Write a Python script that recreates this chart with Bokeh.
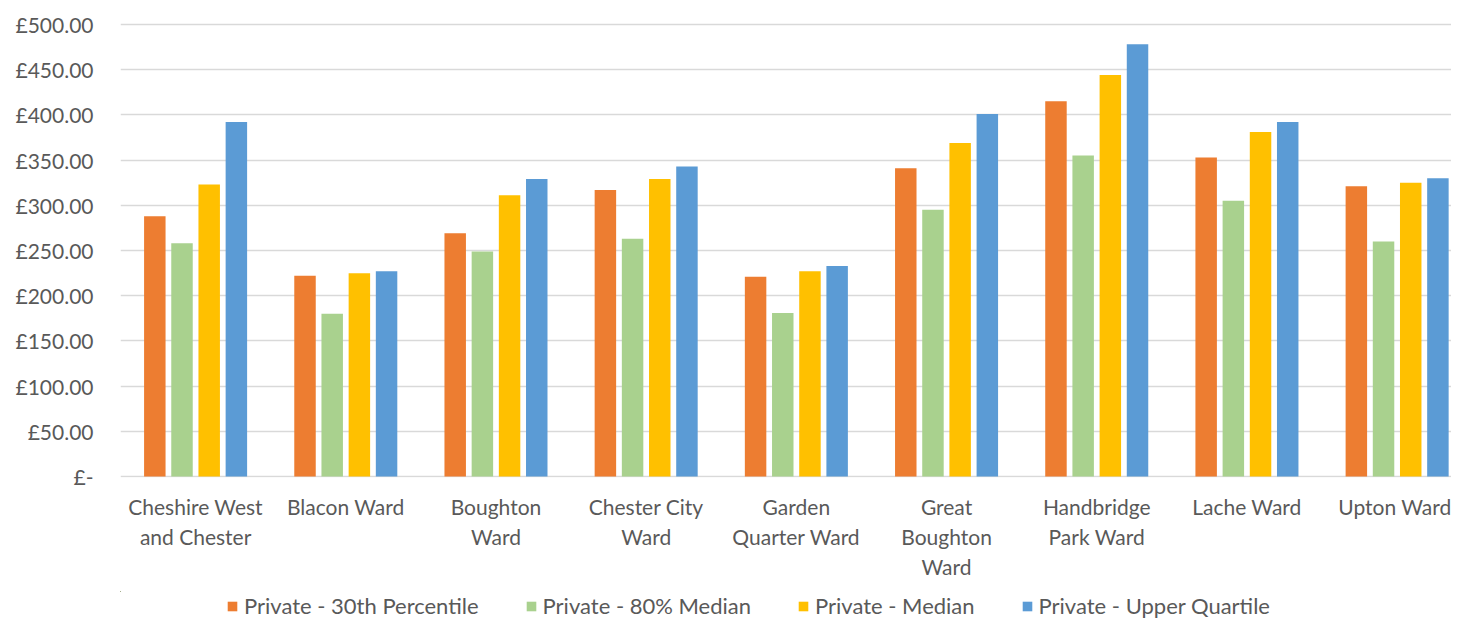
from bokeh.plotting import figure
from bokeh.layouts import column
from bokeh.models import Range1d, FixedTicker, Legend, LegendItem, ColumnDataSource
from bokeh.embed import file_html
from bokeh.resources import INLINE

categories = ["Cheshire West and Chester", "Blacon Ward", "Boughton Ward",
              "Chester City Ward", "Garden Quarter Ward", "Great Boughton Ward",
              "Handbridge Park Ward", "Lache Ward", "Upton Ward"]
category_labels = ["Cheshire West\nand Chester", "Blacon Ward", "Boughton\nWard",
                   "Chester City\nWard", "Garden\nQuarter Ward", "Great\nBoughton\nWard",
                   "Handbridge\nPark Ward", "Lache Ward", "Upton Ward"]
series_names = ["Private - 30th Percentile", "Private - 80% Median",
                "Private - Median", "Private - Upper Quartile"]
p30 = [288, 222, 269, 317, 221, 341, 415, 353, 321]
p80 = [258, 180, 249, 263, 181, 295, 355, 305, 260]
median = [323, 225, 311, 329, 227, 369, 444, 381, 325]
upper_q = [392, 227, 329, 343, 233, 401, 478, 392, 330]
y_ticks = [0, 50, 100, 150, 200, 250, 300, 350, 400, 450, 500]
y_tick_labels = ["£-", "£50.00", "£100.00", "£150.00", "£200.00", "£250.00",
                 "£300.00", "£350.00", "£400.00", "£450.00", "£500.00"]

colors = ["#ED7D31", "#A9D18E", "#FFC000", "#5B9BD5"]
series = [p30, p80, median, upper_q]

FONT = "Lato"
TXT = "#595959"

p = figure(width=1451, height=591, output_backend="svg", toolbar_location=None,
           x_range=Range1d(0, 8.862), y_range=Range1d(-1, 511.0),
           min_border_left=120, min_border_right=0, min_border_top=14,
           min_border_bottom=114, outline_line_color=None)

step = 0.181
bw = 0.143
sources = []
for i, (vals, col) in enumerate(zip(series, colors)):
    xs = [k + 0.5 + (i - 1.5) * step for k in range(len(categories))]
    src = ColumnDataSource(dict(x=xs, top=vals, cat=categories))
    sources.append(src)
    p.vbar(x="x", top="top", bottom=0, width=bw, source=src,
           fill_color=col, line_color=None)

p.xgrid.grid_line_color = None
p.ygrid.grid_line_color = "#D9D9D9"
p.ygrid.grid_line_width = 1.5
p.ygrid.ticker = FixedTicker(ticks=y_ticks)

p.yaxis.ticker = FixedTicker(ticks=y_ticks)
p.yaxis.major_label_overrides = {t: l for t, l in zip(y_ticks, y_tick_labels)}
p.yaxis.axis_line_color = None
p.yaxis.major_tick_line_color = None
p.yaxis.major_tick_out = 0
p.yaxis.major_tick_in = 0
p.yaxis.minor_tick_line_color = None
p.yaxis.major_label_standoff = 27
p.yaxis.major_label_text_font = FONT
p.yaxis.major_label_text_font_size = "21px"
p.yaxis.major_label_text_color = TXT

xt = [k + 0.5 for k in range(len(categories))]
p.xaxis.ticker = FixedTicker(ticks=xt)
p.xaxis.major_label_overrides = {t: l for t, l in zip(xt, category_labels)}
p.xaxis.axis_line_color = None
p.xaxis.major_tick_line_color = None
p.xaxis.major_tick_out = 0
p.xaxis.major_tick_in = 0
p.xaxis.minor_tick_line_color = None
p.xaxis.major_label_standoff = 16
p.xaxis.major_label_text_font = FONT
p.xaxis.major_label_text_font_size = "21px"
p.xaxis.major_label_text_color = TXT

# legend strip below the chart (same series, kept out of its view: only the legend shows)
lg = figure(width=1451, height=28, output_backend="svg", toolbar_location=None,
            x_axis_type=None, y_axis_type=None, min_border=0,
            outline_line_color=None, x_range=Range1d(100, 101),
            y_range=Range1d(-2, -1))
lg.xgrid.grid_line_color = None
lg.ygrid.grid_line_color = None
items = []
for src, col, name in zip(sources, colors, series_names):
    r = lg.vbar(x="x", top="top", bottom=0, width=bw, source=src,
                fill_color=col, line_color=None)
    items.append(LegendItem(label=name, renderers=[r]))

legend = Legend(items=items, location=(106, 0), orientation="horizontal",
                spacing=46, padding=0, margin=0, glyph_width=12, glyph_height=12,
                label_standoff=6, label_height=22, label_text_font=FONT,
                label_text_font_size="22px", label_text_color=TXT,
                border_line_color=None, background_fill_alpha=0)
lg.add_layout(legend)

layout = column(p, lg, spacing=0)
open("out.html", "w").write(file_html(layout, INLINE))
